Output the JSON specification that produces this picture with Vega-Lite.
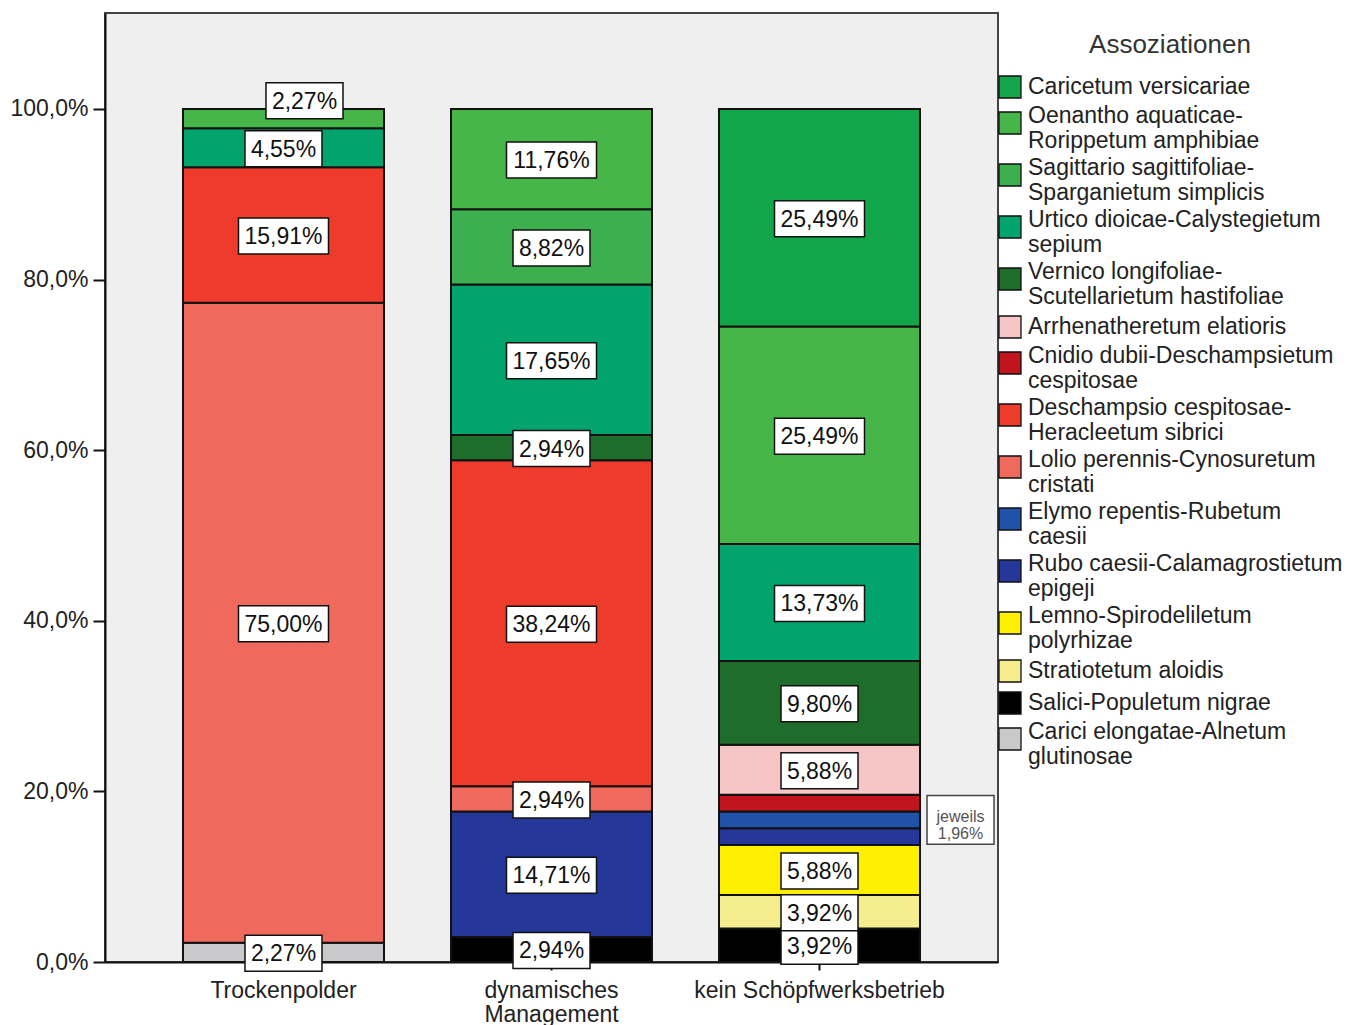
{
  "$schema": "https://vega.github.io/schema/vega-lite/v6.json",
  "width": 893,
  "height": 949,
  "autosize": {"type": "none"},
  "padding": {"left": 105, "top": 13, "right": 360, "bottom": 63},
  "background": "white",
  "config": {
    "font": "Liberation Sans",
    "view": {"fill": "#efefef", "stroke": "#444", "strokeWidth": 2},
    "axis": {"grid": false, "title": null, "domainColor": "#111", "domainWidth": 2, "tickColor": "#111", "tickWidth": 2, "labelFont": "Liberation Sans", "labelFontSize": 23, "labelColor": "#222", "labelLimit": 500}
  },
  "data": {
    "values": [
      {"cat": "Trockenpolder", "a": "Carici elongatae-Alnetum|glutinosae", "o": 15, "v": 2.27},
      {"cat": "Trockenpolder", "a": "Lolio perennis-Cynosuretum|cristati", "o": 9, "v": 75.00},
      {"cat": "Trockenpolder", "a": "Deschampsio cespitosae-|Heracleetum sibrici", "o": 8, "v": 15.91},
      {"cat": "Trockenpolder", "a": "Urtico dioicae-Calystegietum|sepium", "o": 4, "v": 4.55},
      {"cat": "Trockenpolder", "a": "Oenantho aquaticae-|Rorippetum amphibiae", "o": 2, "v": 2.27},
      {"cat": "dynamisches Management", "a": "Salici-Populetum nigrae", "o": 14, "v": 2.94},
      {"cat": "dynamisches Management", "a": "Rubo caesii-Calamagrostietum|epigeji", "o": 11, "v": 14.71},
      {"cat": "dynamisches Management", "a": "Lolio perennis-Cynosuretum|cristati", "o": 9, "v": 2.94},
      {"cat": "dynamisches Management", "a": "Deschampsio cespitosae-|Heracleetum sibrici", "o": 8, "v": 38.24},
      {"cat": "dynamisches Management", "a": "Vernico longifoliae-|Scutellarietum hastifoliae", "o": 5, "v": 2.94},
      {"cat": "dynamisches Management", "a": "Urtico dioicae-Calystegietum|sepium", "o": 4, "v": 17.65},
      {"cat": "dynamisches Management", "a": "Sagittario sagittifoliae-|Sparganietum simplicis", "o": 3, "v": 8.82},
      {"cat": "dynamisches Management", "a": "Oenantho aquaticae-|Rorippetum amphibiae", "o": 2, "v": 11.76},
      {"cat": "kein Schöpfwerksbetrieb", "a": "Salici-Populetum nigrae", "o": 14, "v": 3.92},
      {"cat": "kein Schöpfwerksbetrieb", "a": "Stratiotetum aloidis", "o": 13, "v": 3.92},
      {"cat": "kein Schöpfwerksbetrieb", "a": "Lemno-Spirodeliletum|polyrhizae", "o": 12, "v": 5.88},
      {"cat": "kein Schöpfwerksbetrieb", "a": "Rubo caesii-Calamagrostietum|epigeji", "o": 11, "v": 1.96},
      {"cat": "kein Schöpfwerksbetrieb", "a": "Elymo repentis-Rubetum|caesii", "o": 10, "v": 1.96},
      {"cat": "kein Schöpfwerksbetrieb", "a": "Cnidio dubii-Deschampsietum|cespitosae", "o": 7, "v": 1.96},
      {"cat": "kein Schöpfwerksbetrieb", "a": "Arrhenatheretum elatioris", "o": 6, "v": 5.88},
      {"cat": "kein Schöpfwerksbetrieb", "a": "Vernico longifoliae-|Scutellarietum hastifoliae", "o": 5, "v": 9.80},
      {"cat": "kein Schöpfwerksbetrieb", "a": "Urtico dioicae-Calystegietum|sepium", "o": 4, "v": 13.73},
      {"cat": "kein Schöpfwerksbetrieb", "a": "Oenantho aquaticae-|Rorippetum amphibiae", "o": 2, "v": 25.49},
      {"cat": "kein Schöpfwerksbetrieb", "a": "Caricetum versicariae", "o": 1, "v": 25.49}
    ]
  },
  "transform": [
    {"stack": "v", "groupby": ["cat"], "sort": [{"field": "o", "order": "descending"}], "as": ["y0", "y1"]},
    {"calculate": "(datum.y0 + datum.y1) / 2", "as": "m"},
    {"calculate": "replace(format(datum.v, '.2f'), '.', ',') + '%'", "as": "lab"}
  ],
  "encoding": {
    "x": {
      "field": "cat", "type": "nominal",
      "sort": ["Trockenpolder", "dynamisches Management", "kein Schöpfwerksbetrieb"],
      "scale": {"paddingInner": 0.25, "paddingOuter": 0.291},
      "axis": {"labelAngle": 0, "tickSize": 8, "labelPadding": 9, "labelLineHeight": 24, "labelLimit": 500, "labelExpr": "datum.value == 'dynamisches Management' ? ['dynamisches', 'Management'] : datum.label"}
    }
  },
  "layer": [
    {
      "mark": {"type": "bar", "stroke": "#111", "strokeWidth": 2, "opacity": 1},
      "encoding": {
        "y": {"field": "y0", "type": "quantitative", "scale": {"domain": [0, 111.25], "nice": false, "zero": true},
          "axis": {"values": [0, 20, 40, 60, 80, 100], "tickSize": 12, "labelPadding": 5, "labelExpr": "replace(format(datum.value, '.1f'), '.', ',') + '%'"}},
        "y2": {"field": "y1"},
        "color": {
          "field": "a", "type": "nominal",
          "scale": {
            "domain": [
              "Caricetum versicariae",
              "Oenantho aquaticae-|Rorippetum amphibiae",
              "Sagittario sagittifoliae-|Sparganietum simplicis",
              "Urtico dioicae-Calystegietum|sepium",
              "Vernico longifoliae-|Scutellarietum hastifoliae",
              "Arrhenatheretum elatioris",
              "Cnidio dubii-Deschampsietum|cespitosae",
              "Deschampsio cespitosae-|Heracleetum sibrici",
              "Lolio perennis-Cynosuretum|cristati",
              "Elymo repentis-Rubetum|caesii",
              "Rubo caesii-Calamagrostietum|epigeji",
              "Lemno-Spirodeliletum|polyrhizae",
              "Stratiotetum aloidis",
              "Salici-Populetum nigrae",
              "Carici elongatae-Alnetum|glutinosae"
            ],
            "range": ["#13a54a", "#46b648", "#3cb04f", "#00a46c", "#1f6d2b", "#f6c5c6", "#c1151d", "#ee3b2c", "#ef6a5c", "#1f52a8", "#26379a", "#fff000", "#f6ed8f", "#000000", "#c9c9cb"]
          },
          "legend": {
            "orient": "none", "legendX": 893, "legendY": 19,
            "title": "Assoziationen", "titleFont": "Liberation Sans", "titleFontSize": 26, "titleFontWeight": "normal", "titleColor": "#333", "titleAnchor": "middle", "titlePadding": 17,
            "symbolType": "square", "symbolSize": 484, "symbolStrokeColor": "#111", "symbolStrokeWidth": 1.3, "symbolOpacity": 1,
            "labelFont": "Liberation Sans", "labelFontSize": 23, "labelColor": "#222", "labelOffset": 6, "labelLimit": 400, "labelLineHeight": 24,
            "labelBaseline": {"expr": "indexof(datum.label, '|') >= 0 ? 'alphabetic' : 'middle'"},
            "rowPadding": 4, "padding": 0,
            "labelExpr": "split(datum.label, '|')"
          }
        }
      }
    },
    {
      "transform": [{"filter": "datum.v > 2 && !(datum.cat == 'Trockenpolder' && datum.o == 2)"}],
      "mark": {"type": "point", "filled": true, "fill": "white", "stroke": "#111", "strokeWidth": 1.5, "opacity": 1, "yOffset": 1},
      "encoding": {
        "y": {"field": "m", "type": "quantitative"},
        "shape": {"condition": {"test": "length(datum.lab) > 5", "value": "M-1,-0.4H1V0.4H-1Z"}, "value": "M-1,-0.4675H1V0.4675H-1Z"},
        "size": {"condition": {"test": "length(datum.lab) > 5", "value": 8100}, "value": 5929}
      }
    },
    {
      "transform": [{"filter": "datum.cat == 'Trockenpolder' && datum.o == 2"}],
      "mark": {"type": "point", "filled": true, "fill": "white", "stroke": "#111", "strokeWidth": 1.5, "opacity": 1, "shape": "M-1,-0.4675H1V0.4675H-1Z", "size": 5929, "xOffset": 21, "yOffset": -18},
      "encoding": {"y": {"field": "m", "type": "quantitative"}}
    },
    {
      "transform": [{"filter": "datum.v > 2 && !(datum.cat == 'Trockenpolder' && datum.o == 2)"}],
      "mark": {"type": "text", "fontSize": 23, "font": "Liberation Sans", "color": "#111", "align": "center", "baseline": "middle", "dy": 2},
      "encoding": {"y": {"field": "m", "type": "quantitative"}, "text": {"field": "lab"}}
    },
    {
      "transform": [{"filter": "datum.cat == 'Trockenpolder' && datum.o == 2"}],
      "mark": {"type": "text", "fontSize": 23, "font": "Liberation Sans", "color": "#111", "align": "center", "baseline": "middle", "dx": 21, "dy": -17},
      "encoding": {"y": {"field": "m", "type": "quantitative"}, "text": {"field": "lab"}}
    },
    {
      "transform": [{"filter": "datum.cat == 'kein Schöpfwerksbetrieb' && datum.o == 10"}],
      "mark": {"type": "point", "filled": true, "fill": "white", "stroke": "#444", "strokeWidth": 1.5, "opacity": 1, "shape": "M-1,-0.731H1V0.731H-1Z", "size": 4489, "xOffset": 141, "yOffset": 0},
      "encoding": {"y": {"field": "m", "type": "quantitative"}}
    },
    {
      "transform": [{"filter": "datum.cat == 'kein Schöpfwerksbetrieb' && datum.o == 10"}],
      "mark": {"type": "text", "fontSize": 16, "font": "Liberation Sans", "color": "#555", "align": "center", "baseline": "middle", "dx": 141, "dy": -3, "lineHeight": 17},
      "encoding": {"y": {"field": "m", "type": "quantitative"}, "text": {"value": ["jeweils", "1,96%"]}}
    }
  ]
}
